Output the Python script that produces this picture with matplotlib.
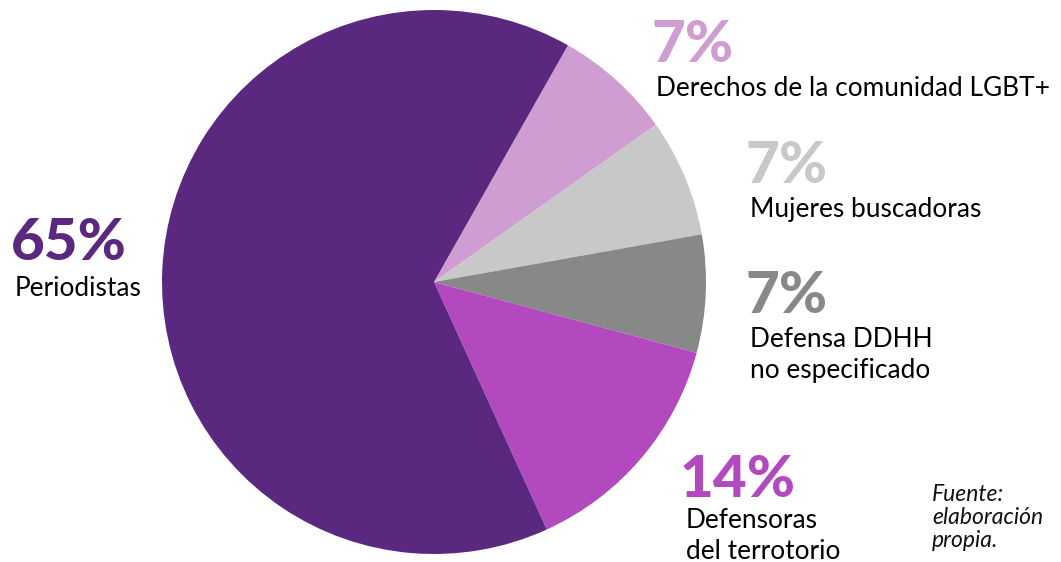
import matplotlib
matplotlib.use("Agg")
import matplotlib.pyplot as plt
from matplotlib import font_manager

categories = ["Derechos de la comunidad LGBT+", "Mujeres buscadoras",
              "Defensa DDHH\nno especificado", "Defensoras\ndel terrotorio", "Periodistas"]
values = [7, 7, 7, 14, 65]
colors = ["#cf9dd1", "#c8c8c8", "#888888", "#b249be", "#5b2880"]
pct_labels = ["7%", "7%", "7%", "14%", "65%"]

W, H = 1061, 562
fig = plt.figure(figsize=(W / 100, H / 100), dpi=100)
fig.patch.set_facecolor("white")

cx, cy, r = 434, 282, 272
ax = fig.add_axes([(cx - r) / W, 1 - (cy + r) / H, 2 * r / W, 2 * r / H])
ax.pie(values, colors=colors, startangle=60.5, counterclock=False,
       wedgeprops=dict(linewidth=0))
ax.set_aspect("equal")
ax.set_xlim(-1, 1)
ax.set_ylim(-1, 1)
ax.axis("off")

def ftext(x, y, s, **kw):
    fig.text(x / W, 1 - y / H, s, va="baseline", ha="left", family="Lato", **kw)

# (pct x, pct baseline, label x, label baseline)
pos = [(651, 62, 656, 96),
       (746, 183, 750, 217),
       (746, 313, 750, 347),
       (680, 497, 686, 528),
       (11, 260, 15, 296)]
for (px, py, lx, ly), pct, cat, col in zip(pos, pct_labels, categories, colors):
    ftext(px, py, pct, fontsize=42, fontweight="black", color=col)
    lines = cat.split("\n")
    for i, ln in enumerate(lines):
        ftext(lx, ly + i * 31, ln, fontsize=18.9, color="black")

for i, ln in enumerate(["Fuente:", "elaboración", "propia."]):
    ftext(932, 501 + i * 23, ln, fontsize=16.5, style="italic", color="#111111")

fig.savefig("out.png", dpi=100, facecolor="white")
